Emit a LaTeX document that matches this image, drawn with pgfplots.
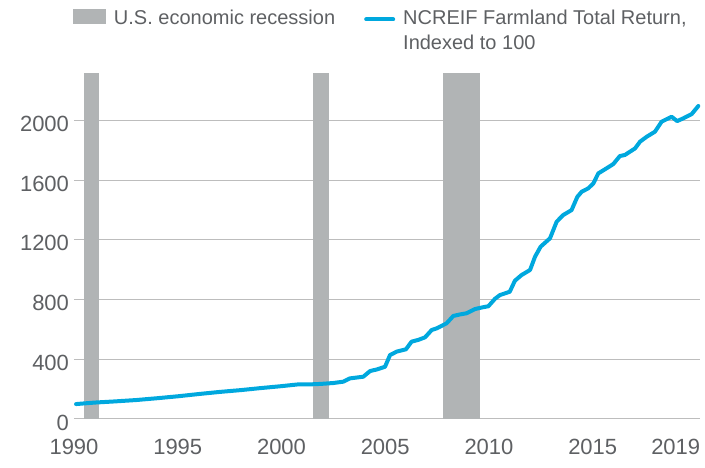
\documentclass[border=0pt]{standalone}
\usepackage{fontspec}
\setmainfont{Liberation Sans}
\usepackage{pgfplots}
\pgfplotsset{compat=1.18}

\definecolor{recgray}{HTML}{B1B4B5}
\definecolor{ncblue}{HTML}{00A8DE}
\definecolor{txtgray}{HTML}{5E6063}
\definecolor{gridgray}{HTML}{BDBDBD}

\pgfplotsset{
  recleg/.style={legend image code/.code={\fill[##1] (0pt,0pt) rectangle (33pt,15pt);}},
  lineleg/.style={legend image code/.code={\path (0pt,0pt); \draw[##1] (3pt,5pt) -- (30pt,5pt);}},
}

\begin{document}
\begin{tikzpicture}
\useasboundingbox (-74pt,-49pt) rectangle (631pt,419pt);
\begin{axis}[
  at={(0pt,0pt)}, anchor=south west,
  scale only axis, width=626pt, height=346pt,
  xmin=1990, xmax=2020.17, ymin=0, ymax=2317,
  axis line style={draw=none},
  major tick length=0pt,
  xtick={1990,1995,2000,2005,2010,2015,2019},
  ytick={0,400,...,2000},
  ymajorgrids,
  grid style={gridgray, line width=1pt},
  ticklabel style={font=\fontsize{22}{26}\selectfont, text=txtgray},
  /pgf/number format/1000 sep={},
  /pgf/number format/assume math mode=true,
  xticklabel style={yshift=-17pt},
  yticklabel style={xshift=-1.5pt, yshift=-3.5pt},
  legend columns=2,
  legend style={draw=none, fill=none, at={(rel axis cs:0,1)}, anchor=north west,
    xshift=-1pt, yshift=66pt, inner sep=0pt, outer sep=0pt,
    font=\fontsize{20}{25}\selectfont, text=txtgray,
    nodes={anchor=base west, inner sep=0pt},
    /tikz/every odd column/.append style={column sep=8pt},
    /tikz/every even column/.append style={column sep=26pt}},
]
% recessions
\addplot[fill=recgray, draw=none, recleg]
  coordinates {(1990.48,0) (1990.48,2317) (1991.22,2317) (1991.22,0)} -- cycle;
\addlegendentry{U.S. economic recession}
\addplot[fill=recgray, draw=none, forget plot]
  coordinates {(2001.52,0) (2001.52,2317) (2002.29,2317) (2002.29,0)} -- cycle;
\addplot[fill=recgray, draw=none, forget plot]
  coordinates {(2007.78,0) (2007.78,2317) (2009.57,2317) (2009.57,0)} -- cycle;

% NCREIF farmland total return
\addplot[ncblue, line width=4pt, line join=round, line cap=round, lineleg]
  coordinates {
  (1990.10,100) (1991,110) (1992,118) (1993,127) (1994,139) (1995,152)
  (1996,167) (1997,181) (1998,193) (1999,207) (2000,220) (2000.75,231)
  (2001.4,232) (2001.9,235) (2002.5,241) (2002.98,250) (2003.3,272)
  (2003.94,283) (2004.27,321) (2004.6,332) (2004.99,350) (2005.23,428)
  (2005.55,451) (2006.0,467) (2006.27,518) (2006.6,530) (2006.92,547)
  (2007.24,596) (2007.48,607) (2007.96,641) (2008.28,690) (2008.6,700)
  (2008.92,708) (2009.32,736) (2009.7,748) (2009.97,755) (2010.29,805)
  (2010.53,830) (2011.0,852) (2011.25,926) (2011.57,964) (2011.98,998)
  (2012.22,1087) (2012.49,1154) (2012.94,1210) (2013.26,1321) (2013.58,1366)
  (2013.98,1399) (2014.26,1488) (2014.47,1522) (2014.79,1545) (2015.03,1578)
  (2015.27,1645) (2015.59,1672) (2015.99,1707) (2016.31,1761) (2016.55,1768)
  (2017.04,1812) (2017.28,1857) (2017.6,1890) (2018.0,1924) (2018.32,1991)
  (2018.8,2024) (2019.07,1995) (2019.36,2013) (2019.77,2042) (2020.09,2096)
  };
\addlegendentry{{\begin{tabular}[t]{@{}l@{}}NCREIF Farmland Total Return,\\Indexed to 100\end{tabular}}}
\end{axis}
\end{tikzpicture}
\end{document}
